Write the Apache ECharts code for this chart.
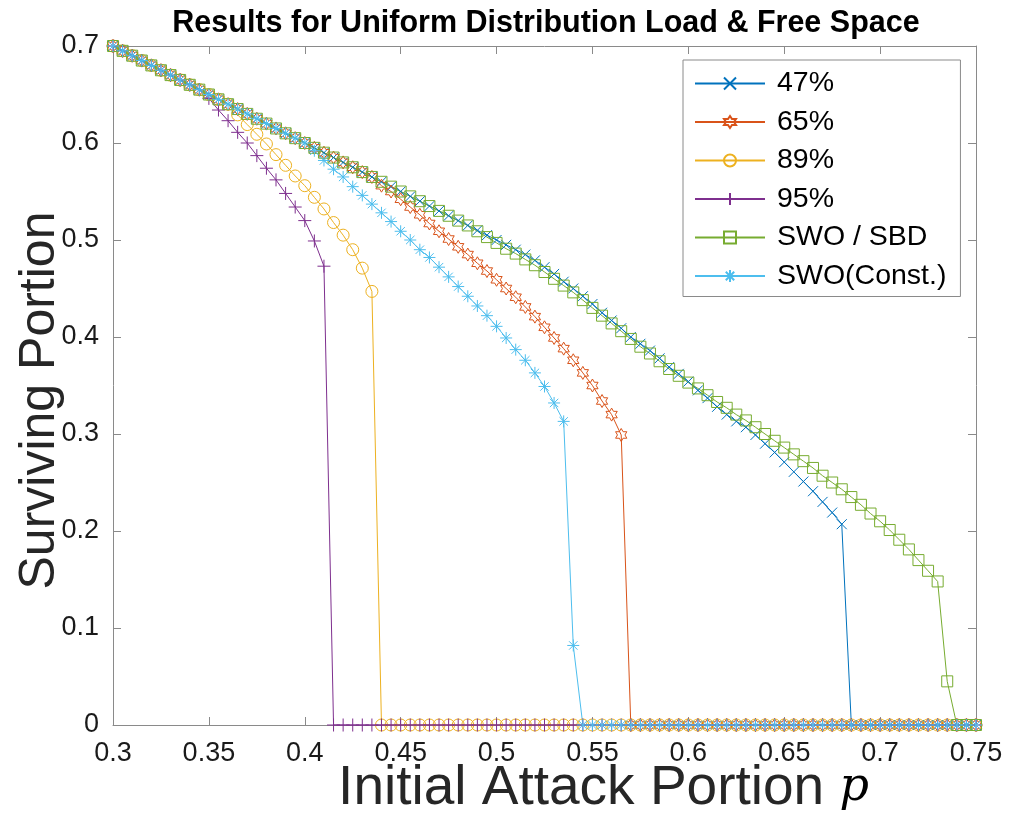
<!doctype html>
<html lang="en">
<head>
<meta charset="utf-8"/>
<title>Results for Uniform Distribution Load &amp; Free Space</title>
<style>
  html, body { margin: 0; padding: 0; background: #fff; }
  #chart { width: 1012px; height: 824px; }
</style>
</head>
<body>
<div id="chart"></div>
<script src="https://cdn.jsdelivr.net/npm/echarts@6/dist/echarts.min.js"></script>
<script>
// initial attack portion p, sampled every 0.005
const attackPortion = [
  0.300, 0.305, 0.310, 0.315, 0.320, 0.325, 0.330, 0.335, 0.340, 0.345,
  0.350, 0.355, 0.360, 0.365, 0.370, 0.375, 0.380, 0.385, 0.390, 0.395,
  0.400, 0.405, 0.410, 0.415, 0.420, 0.425, 0.430, 0.435, 0.440, 0.445,
  0.450, 0.455, 0.460, 0.465, 0.470, 0.475, 0.480, 0.485, 0.490, 0.495,
  0.500, 0.505, 0.510, 0.515, 0.520, 0.525, 0.530, 0.535, 0.540, 0.545,
  0.550, 0.555, 0.560, 0.565, 0.570, 0.575, 0.580, 0.585, 0.590, 0.595,
  0.600, 0.605, 0.610, 0.615, 0.620, 0.625, 0.630, 0.635, 0.640, 0.645,
  0.650, 0.655, 0.660, 0.665, 0.670, 0.675, 0.680, 0.685, 0.690, 0.695,
  0.700, 0.705, 0.710, 0.715, 0.720, 0.725, 0.730, 0.735, 0.740, 0.745,
  0.750,
];

// surviving portion per curve
const load47 = [
  0.700, 0.695, 0.690, 0.685, 0.680, 0.675, 0.670, 0.665, 0.660, 0.655,
  0.650, 0.645, 0.640, 0.635, 0.630, 0.625, 0.620, 0.615, 0.610, 0.605,
  0.600, 0.595, 0.590, 0.585, 0.580, 0.575, 0.570, 0.565, 0.560, 0.555,
  0.550, 0.545, 0.540, 0.535, 0.530, 0.525, 0.520, 0.515, 0.510, 0.505,
  0.500, 0.495, 0.490, 0.485, 0.479, 0.472, 0.465, 0.457, 0.450, 0.442,
  0.434, 0.425, 0.417, 0.409, 0.400, 0.393, 0.386, 0.378, 0.369, 0.362,
  0.354, 0.345, 0.337, 0.328, 0.320, 0.313, 0.307, 0.299, 0.290, 0.281,
  0.271, 0.261, 0.251, 0.241, 0.230, 0.219, 0.207, 0, 0, 0,
  0, 0, 0, 0, 0, 0, 0, 0, 0, 0,
  0,
];
const load65 = [
  0.700, 0.695, 0.690, 0.685, 0.680, 0.675, 0.670, 0.665, 0.660, 0.655,
  0.650, 0.645, 0.640, 0.635, 0.630, 0.625, 0.620, 0.615, 0.610, 0.605,
  0.600, 0.595, 0.590, 0.585, 0.580, 0.575, 0.570, 0.565, 0.556, 0.550,
  0.542, 0.534, 0.526, 0.517, 0.509, 0.501, 0.493, 0.485, 0.476, 0.468,
  0.459, 0.450, 0.441, 0.431, 0.421, 0.410, 0.399, 0.388, 0.376, 0.363,
  0.350, 0.334, 0.320, 0.299, 0, 0, 0, 0, 0, 0,
  0, 0, 0, 0, 0, 0, 0, 0, 0, 0,
  0, 0, 0, 0, 0, 0, 0, 0, 0, 0,
  0, 0, 0, 0, 0, 0, 0, 0, 0, 0,
  0,
];
const load89 = [
  0.700, 0.695, 0.690, 0.685, 0.680, 0.675, 0.670, 0.665, 0.660, 0.655,
  0.650, 0.645, 0.640, 0.629, 0.619, 0.609, 0.599, 0.588, 0.577, 0.566,
  0.556, 0.544, 0.532, 0.518, 0.505, 0.490, 0.471, 0.447, 0, 0,
  0, 0, 0, 0, 0, 0, 0, 0, 0, 0,
  0, 0, 0, 0, 0, 0, 0, 0, 0, 0,
  0, 0, 0, 0, 0, 0, 0, 0, 0, 0,
  0, 0, 0, 0, 0, 0, 0, 0, 0, 0,
  0, 0, 0, 0, 0, 0, 0, 0, 0, 0,
  0, 0, 0, 0, 0, 0, 0, 0, 0, 0,
  0,
];
const load95 = [
  0.700, 0.695, 0.690, 0.685, 0.680, 0.675, 0.670, 0.665, 0.660, 0.655,
  0.646, 0.634, 0.623, 0.611, 0.600, 0.587, 0.574, 0.562, 0.548, 0.534,
  0.520, 0.499, 0.473, 0, 0, 0, 0, 0, 0, 0,
  0, 0, 0, 0, 0, 0, 0, 0, 0, 0,
  0, 0, 0, 0, 0, 0, 0, 0, 0, 0,
  0, 0, 0, 0, 0, 0, 0, 0, 0, 0,
  0, 0, 0, 0, 0, 0, 0, 0, 0, 0,
  0, 0, 0, 0, 0, 0, 0, 0, 0, 0,
  0, 0, 0, 0, 0, 0, 0, 0, 0, 0,
  0,
];
const swoSbd = [
  0.700, 0.695, 0.690, 0.685, 0.680, 0.675, 0.670, 0.665, 0.660, 0.655,
  0.650, 0.645, 0.640, 0.635, 0.630, 0.625, 0.620, 0.615, 0.610, 0.605,
  0.600, 0.595, 0.590, 0.585, 0.580, 0.575, 0.570, 0.565, 0.560, 0.555,
  0.550, 0.545, 0.540, 0.535, 0.530, 0.525, 0.520, 0.515, 0.509, 0.503,
  0.497, 0.491, 0.486, 0.480, 0.474, 0.467, 0.460, 0.453, 0.446, 0.438,
  0.430, 0.422, 0.414, 0.406, 0.398, 0.390, 0.383, 0.375, 0.367, 0.360,
  0.353, 0.347, 0.340, 0.333, 0.327, 0.320, 0.314, 0.307, 0.300, 0.293,
  0.286, 0.279, 0.272, 0.265, 0.257, 0.250, 0.243, 0.235, 0.227, 0.218,
  0.210, 0.201, 0.191, 0.181, 0.170, 0.159, 0.148, 0.045, 0, 0,
  0,
];
const swoConst = [
  0.700, 0.695, 0.690, 0.685, 0.680, 0.675, 0.670, 0.665, 0.660, 0.655,
  0.650, 0.645, 0.640, 0.635, 0.630, 0.625, 0.620, 0.615, 0.610, 0.605,
  0.600, 0.592, 0.582, 0.573, 0.565, 0.555, 0.546, 0.537, 0.528, 0.519,
  0.509, 0.500, 0.490, 0.482, 0.472, 0.462, 0.452, 0.442, 0.432, 0.422,
  0.411, 0.399, 0.387, 0.376, 0.363, 0.349, 0.332, 0.313, 0.082, 0,
  0, 0, 0, 0, 0, 0, 0, 0, 0, 0,
  0, 0, 0, 0, 0, 0, 0, 0, 0, 0,
  0, 0, 0, 0, 0, 0, 0, 0, 0, 0,
  0, 0, 0, 0, 0, 0, 0, 0, 0, 0,
  0,
];

const seriesNames = ["47%", "65%", "89%", "95%", "SWO / SBD", "SWO(Const.)"];
const seriesValues = [load47, load65, load89, load95, swoSbd, swoConst];
const seriesColors = ["#0072BD", "#D95319", "#EDB120", "#7E2F8E", "#77AC30", "#4DBEEE"];

// MATLAB-like open markers: x, hexagram, o, +, s, *
const MARKERS = [
  { symbol: "path://M-5,-5L5,5M-5,5L5,-5", size: 10 },
  { symbol: "path://M0,-10L2.887,-5L8.66,-5L5.774,0L8.66,5L2.887,5L0,10L-2.887,5L-8.66,5L-5.774,0L-8.66,-5L-2.887,-5Z", size: 13 },
  { symbol: "path://M0,-5A5,5 0 1 1 0,5A5,5 0 1 1 0,-5Z", size: 12 },
  { symbol: "path://M0,-5L0,5M-5,0L5,0", size: 13 },
  { symbol: "path://M-5,-5L5,-5L5,5L-5,5Z", size: 11 },
  { symbol: "path://M0,-5L0,5M-5,0L5,0M-3.5,-3.5L3.5,3.5M-3.5,3.5L3.5,-3.5", size: 12 },
];

const AXIS_GREY = "#8a8a8a";
const TEXT = "#1a1a1a";
const FONT = "'Liberation Sans', Arial, Helvetica, sans-serif";

const chart = echarts.init(document.getElementById("chart"), null, { renderer: "canvas" });

const series = seriesNames.map((name, k) => ({
  name,
  type: "line",
  xAxisIndex: 0,
  yAxisIndex: 0,
  data: attackPortion.map((p, i) => [p, seriesValues[k][i]]),
  symbol: MARKERS[k].symbol,
  symbolSize: MARKERS[k].size,
  symbolKeepAspect: true,
  showAllSymbol: true,
  clip: false,
  lineStyle: { color: seriesColors[k], width: 1 },
  itemStyle: { color: "none", borderColor: seriesColors[k], borderWidth: 1 },
  emphasis: { disabled: true },
}));

const tickFmt = (v) => String(+v.toFixed(2));

chart.setOption({
  animation: false,
  backgroundColor: "#fff",
  textStyle: { fontFamily: FONT, color: TEXT },
  title: {
    text: "Results for Uniform Distribution Load & Free Space",
    left: 541,
    top: 3,
    textAlign: "center",
    textStyle: { fontFamily: FONT, fontWeight: "bold", fontSize: 30.5, color: "#000" },
  },
  grid: { left: 113, right: 36, top: 46, bottom: 99, containLabel: false, outerBoundsMode: "none" },
  legend: {
    orient: "vertical",
    left: 683,
    top: 60,
    padding: [9, 14, 6, 11],
    itemWidth: 70,
    itemHeight: 15,
    itemGap: 9.5,
    backgroundColor: "#fff",
    borderColor: AXIS_GREY,
    borderWidth: 1,
    textStyle: { fontFamily: FONT, fontSize: 28.5, color: "#000", padding: [0, 0, 0, 7] },
    data: seriesNames,
  },
  xAxis: [
    {
      type: "value",
      min: 0.3,
      max: 0.75,
      interval: 0.05,
      position: "bottom",
      name: "{t|Initial Attack Portion }{p|p}",
      nameLocation: "middle",
      nameGap: 36,
      nameMoveOverlap: false,
      nameTextStyle: {
        padding: [0, 0, 0, 118],
        rich: {
          t: { fontFamily: FONT, fontSize: 55, color: "#262626" },
          p: { fontFamily: "'DejaVu Serif', 'Liberation Serif', serif", fontStyle: "italic", fontSize: 46, color: "#000" },
        },
      },
      axisLine: { show: true, onZero: false, lineStyle: { color: AXIS_GREY, width: 1 } },
      axisTick: { show: true, inside: true, length: 8, lineStyle: { color: AXIS_GREY } },
      axisLabel: { margin: 15, fontSize: 27, color: TEXT, fontFamily: FONT, formatter: tickFmt },
      splitLine: { show: false },
    },
    {
      type: "value",
      min: 0.3,
      max: 0.75,
      interval: 0.05,
      position: "top",
      axisLine: { show: true, onZero: false, lineStyle: { color: AXIS_GREY, width: 1 } },
      axisTick: { show: true, inside: true, length: 8, lineStyle: { color: AXIS_GREY } },
      axisLabel: { show: false },
      splitLine: { show: false },
    },
  ],
  yAxis: [
    {
      type: "value",
      min: 0,
      max: 0.7,
      interval: 0.1,
      position: "left",
      name: "Surviving Portion",
      nameLocation: "middle",
      nameGap: 48,
      nameMoveOverlap: false,
      nameTextStyle: { fontFamily: FONT, fontSize: 50, color: "#262626", padding: [0, 30, 0, 0] },
      axisLine: { show: true, onZero: false, lineStyle: { color: AXIS_GREY, width: 1 } },
      axisTick: { show: true, inside: true, length: 8, lineStyle: { color: AXIS_GREY } },
      axisLabel: { margin: 14, fontSize: 27, color: TEXT, fontFamily: FONT, formatter: tickFmt },
      splitLine: { show: false },
    },
    {
      type: "value",
      min: 0,
      max: 0.7,
      interval: 0.1,
      position: "right",
      axisLine: { show: true, onZero: false, lineStyle: { color: AXIS_GREY, width: 1 } },
      axisTick: { show: true, inside: true, length: 8, lineStyle: { color: AXIS_GREY } },
      axisLabel: { show: false },
      splitLine: { show: false },
    },
  ],
  series,
});
</script>
</body>
</html>
